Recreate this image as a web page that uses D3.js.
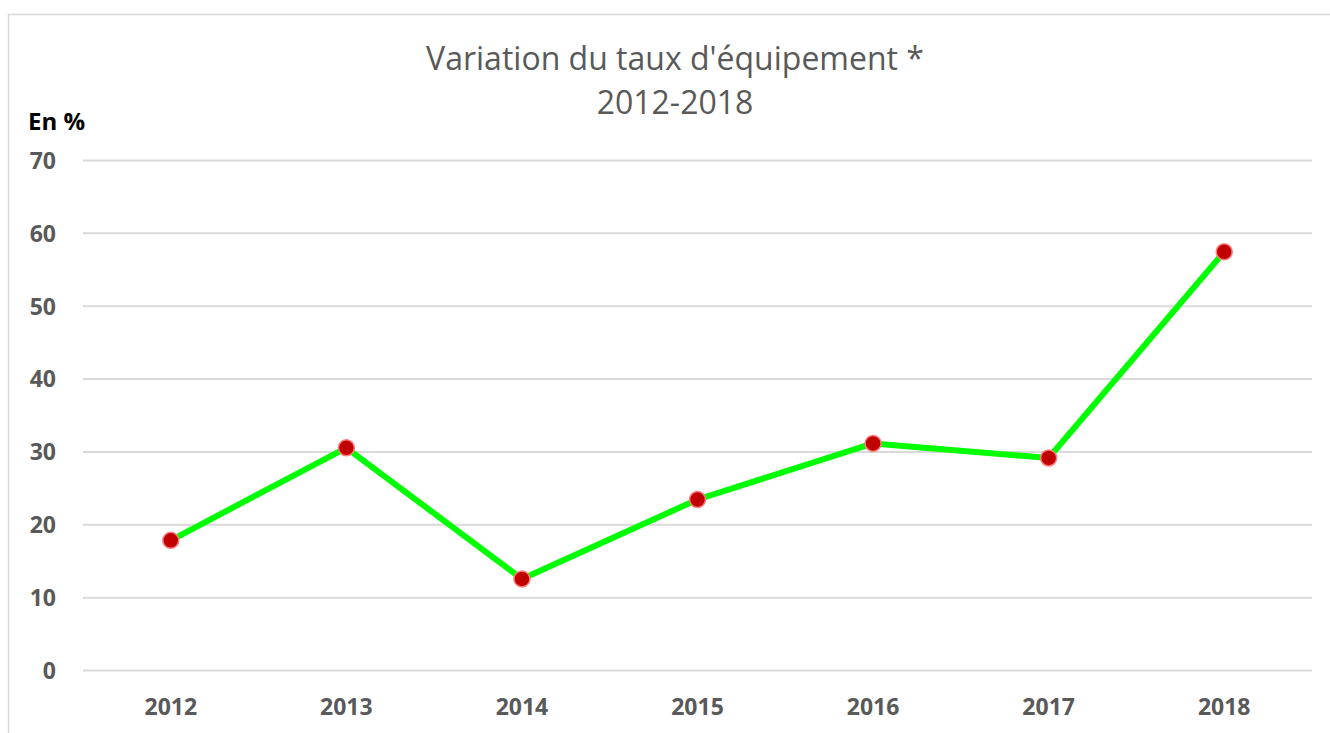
<!DOCTYPE html>
<html>
<head>
<meta charset="utf-8">
<script src="https://cdnjs.cloudflare.com/ajax/libs/d3/7.8.5/d3.min.js"></script>
<style>
  body{margin:0;background:#fff;}
  svg{display:block;}
  svg text{font-family:"Open Sans","Liberation Sans",sans-serif;}
</style>
</head>
<body>
<div class="chart"></div>
<script>
var years = ["2012","2013","2014","2015","2016","2017","2018"];
var values = [17.8, 30.5, 12.5, 23.4, 31.1, 29.1, 57.4];
var yTicks = [0,10,20,30,40,50,60,70];

var W = 1330, H = 733;
var svg = d3.select(".chart").append("svg")
            .attr("width",W)
            .attr("height",H);

// outer chart border
svg.append("rect")
   .attr("x",8.5).attr("y",14.5)
   .attr("width",W+20).attr("height",H+20)
   .style("fill","none")
   .style("stroke","#d9d9d9")
   .style("stroke-width","1.5px");

var x = d3.scaleBand().domain(years).range([83,1312]);
var y = d3.scaleLinear().domain([0,70]).range([670,160]);

// gridlines
svg.append("g").selectAll("line")
   .data(yTicks).enter().append("line")
   .attr("x1",83).attr("x2",1312)
   .attr("y1",function(d){return y(d)+0.5;})
   .attr("y2",function(d){return y(d)+0.5;})
   .style("stroke","#d9d9d9")
   .style("stroke-width","2px");

// y axis labels
var yAxis = d3.axisLeft(y).tickValues(yTicks).tickSize(0).tickPadding(0);
var gy = svg.append("g").attr("transform","translate(56,1)").call(yAxis);
gy.select(".domain").remove();
gy.attr("font-family",null);
gy.selectAll("text")
  .style("font-size","23px").style("font-weight","bold")
  .style("fill","#595959");

// x axis labels
var xAxis = d3.axisBottom(x).tickSize(0).tickPadding(0);
var gx = svg.append("g").attr("transform","translate(0,699)").call(xAxis);
gx.select(".domain").remove();
gx.attr("font-family",null);
gx.selectAll("text")
  .style("font-size","23px").style("font-weight","bold")
  .style("fill","#595959");

// title
svg.append("text")
   .attr("x",675).attr("y",70)
   .attr("text-anchor","middle")
   .style("font-size","32px").style("fill","#595959")
   .text("Variation du taux d'équipement *");
svg.append("text")
   .attr("x",675).attr("y",114)
   .attr("text-anchor","middle")
   .style("font-size","32px").style("fill","#595959")
   .text("2012-2018");

svg.append("text")
   .attr("x",28).attr("y",130)
   .style("font-size","24px").style("font-weight","bold")
   .style("fill","#000")
   .text("En %");

var cx = function(d,i){return x(years[i])+x.bandwidth()/2;};

var line = d3.line()
  .x(function(d,i){return cx(d,i);})
  .y(function(d){return y(d);});

svg.append("path")
   .datum(values)
   .attr("d",line)
   .style("fill","none")
   .style("stroke","#00ff00")
   .style("stroke-width","6px")
   .style("stroke-linejoin","round");

svg.append("g").selectAll("circle")
   .data(values).enter().append("circle")
   .attr("cx",cx)
   .attr("cy",function(d){return y(d);})
   .attr("r",8)
   .style("fill","#c00000")
   .style("stroke","#ff7c80")
   .style("stroke-width","1.5px");
</script>
</body>
</html>
